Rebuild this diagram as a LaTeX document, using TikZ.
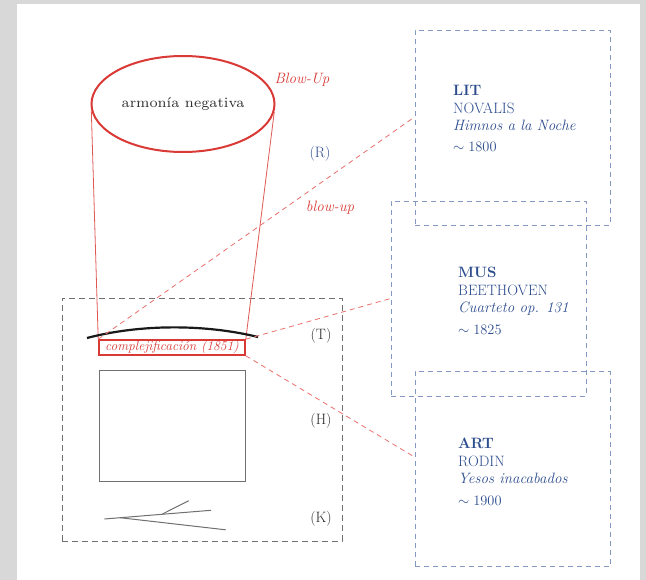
\documentclass[tikz,border=0pt]{standalone}
\usepackage{fontspec}
\newfontfamily\lmsevenrm{lmroman7-regular.otf}
\usetikzlibrary{shapes.geometric,calc}
\definecolor{bggrey}{HTML}{D8D8D8}
\definecolor{redc}{HTML}{D93A36}
\definecolor{redlight}{HTML}{E8706C}
\definecolor{bluetxt}{HTML}{2C4C8E}
\definecolor{bluebox}{HTML}{8399C4}
\definecolor{darktxt}{HTML}{2E2E2E}
\definecolor{greyline}{HTML}{707070}
\begin{document}
\begin{tikzpicture}[x=1pt,y=-1pt,
  basefont/.style={font=\fontsize{15}{18}\selectfont},
  infotxt/.style={basefont,text=bluetxt,inner sep=0,anchor=base west},
  infohead/.style={infotxt,font=\fontsize{15}{18}\selectfont\bfseries},
  infobox/.style={draw=bluebox,line width=0.9pt,dash pattern=on 5pt off 4pt,
    minimum width=195pt,minimum height=195pt,inner sep=0},
  lettertag/.style={basefont,text=darktxt,inner sep=0},
  redlabel/.style={font=\fontsize{15}{18}\selectfont\itshape,text=redc,inner sep=0},
  redthin/.style={draw=redc!85,line width=0.8pt},
  reddash/.style={draw=redlight,line width=0.8pt,dash pattern=on 5pt off 4pt},
  kline/.style={draw=greyline,line width=1pt}]
\useasboundingbox (0,0) rectangle (646,580);
% page background and white sheet
\fill[bggrey] (0,0) rectangle (646,580);
\fill[white] (17,4) rectangle (640,580);

% outer dashed frame on the left
\node[draw=greyline,line width=0.9pt,dash pattern=on 6pt off 4pt,
  minimum width=280pt,minimum height=243pt,inner sep=0] (frame) at (202,419.5) {};

% the blown-up ellipse
\node[ellipse,draw=redc,line width=2pt,minimum width=183pt,minimum height=96pt,
  inner sep=0,font=\lmsevenrm\fontsize{14.3}{17}\selectfont,text=darktxt] (harm) at (183,104)
  {armonía negativa};
\node[redlabel] (blowup) at (302,80) {Blow-Up};
\node[basefont,text=bluetxt,inner sep=0] (rtag) at (320,154) {(R)};
\node[redlabel] (blowlow) at (330,208) {blow-up};

% red framed label
\node[draw=redc,line width=1.6pt,minimum width=146pt,minimum height=15pt,inner sep=0,
  font=\fontsize{13.5}{16}\selectfont\itshape,text=redc] (cplx) at (172,347.5)
  {complejificación (1851)};

% projection lines from the ellipse
\draw[redthin] (harm.184) -- (cplx.north west);
\draw[redthin] (harm.-5) -- (cplx.north east);

% black arc above the label
\coordinate (arcL) at (87,338);
\coordinate (arcR) at (258,337);
\draw[line width=2.2pt,black!90] (arcL) .. controls (140,324) and (205,324) .. (arcR);

% grey rectangle
\node[draw=greyline,line width=1pt,minimum width=146pt,minimum height=110pt,inner sep=0]
  (hbox) at (172,426) {};

% branching lines
\coordinate (k1) at (104.3,519);
\coordinate (k2) at (211,510.3);
\coordinate (k3) at (120,517.7);
\coordinate (k4) at (225.7,529.8);
\coordinate (k5) at (162.4,514);
\coordinate (k6) at (188.8,500.7);
\draw[kline] (k1) -- (k2);
\draw[kline] (k3) -- (k4);
\draw[kline] (k5) -- (k6);

% level tags
\node[lettertag] (ttag) at (321,336) {(T)};
\node[lettertag] (htag) at (321,421) {(H)};
\node[lettertag] (ktag) at (321,519) {(K)};

% dashed boxes on the right
\node[infobox] (lit) at (512.5,127.5) {};
\node[infobox] (mus) at (488.5,298.5) {};
\node[infobox] (art) at (512.5,469) {};

\node[infohead] (lith) at (453,96) {LIT};
\node[infotxt] (litn) at (453,114) {NOVALIS};
\node[infotxt] (litw) at (453,131) {\itshape Himnos a la Noche};
\node[infotxt] (lity) at (453,151.7) {$\sim 1800$};

\node[infohead] (mush) at (458,278) {MUS};
\node[infotxt] (musn) at (458,296) {BEETHOVEN};
\node[infotxt] (musw) at (458,313) {\itshape Cuarteto op. 131};
\node[infotxt] (musy) at (458,335) {$\sim 1825$};

\node[infohead] (arth) at (458,448) {ART};
\node[infotxt] (artn) at (458,466.7) {RODIN};
\node[infotxt] (artw) at (458,483) {\itshape Yesos inacabados};
\node[infotxt] (arty) at (458,505) {$\sim 1900$};

% dashed connectors to the boxes
\draw[reddash] (cplx.north west) -- ($(lit.west)+(0,-10.5)$);
\draw[reddash] (cplx.north east) -- (mus.west);
\draw[reddash] (cplx.south east) -- ($(art.west)+(0,-12)$);
\end{tikzpicture}
\end{document}
